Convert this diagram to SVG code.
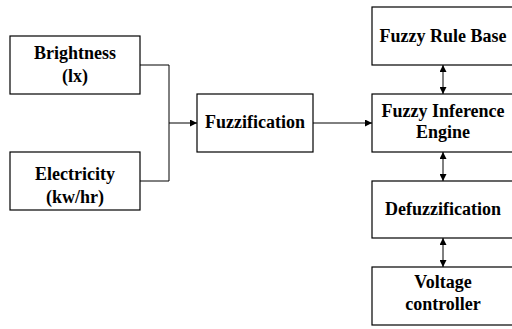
<svg xmlns="http://www.w3.org/2000/svg" width="512" height="329" viewBox="0 0 512 329">
  <defs>
    <marker id="arr" viewBox="0 0 10 10" refX="10" refY="5" markerWidth="7" markerHeight="7" markerUnits="userSpaceOnUse" orient="auto-start-reverse">
      <path d="M0,0 L10,5 L0,10 Z" fill="#000"/>
    </marker>
    <style>
      .box { fill: #fff; stroke: #000; stroke-width: 1.2; }
      .lbl { font-weight: bold; font-size: 18px; fill: #000; text-anchor: middle; }
      .wire { fill: none; stroke: #000; stroke-width: 1; }
    </style>
  </defs>
  <rect width="512" height="329" fill="#fff"/>

  <g font-family="Liberation Serif, serif">
  <g id="brightness">
    <rect class="box" x="10" y="36" width="130" height="58"/>
    <text class="lbl" x="75" y="59">Brightness</text>
    <text class="lbl" x="75" y="82">(lx)</text>
  </g>
  <g id="electricity">
    <rect class="box" x="10" y="152" width="130" height="58"/>
    <text class="lbl" x="75" y="180">Electricity</text>
    <text class="lbl" x="75" y="203">(kw/hr)</text>
  </g>
  <g id="fuzzification">
    <rect class="box" x="197" y="94" width="116" height="58"/>
    <text class="lbl" x="255" y="128">Fuzzification</text>
  </g>
  <g id="rule-base">
    <rect class="box" x="372" y="7" width="142" height="58"/>
    <text class="lbl" x="443" y="42">Fuzzy Rule Base</text>
  </g>
  <g id="inference">
    <rect class="box" x="372" y="94" width="142" height="58"/>
    <text class="lbl" x="443" y="117">Fuzzy Inference</text>
    <text class="lbl" x="443" y="138">Engine</text>
  </g>
  <g id="defuzzification">
    <rect class="box" x="372" y="181" width="142" height="57"/>
    <text class="lbl" x="443" y="215">Defuzzification</text>
  </g>
  <g id="voltage">
    <rect class="box" x="372" y="267" width="142" height="58"/>
    <text class="lbl" x="443" y="288">Voltage</text>
    <text class="lbl" x="443" y="310">controller</text>
  </g>
  </g>

  <g id="connectors">
    <path class="wire" d="M140,65 H169 V181 H140"/>
    <path class="wire" d="M169,123 H197" marker-end="url(#arr)"/>
    <path class="wire" d="M313,123 H372" marker-end="url(#arr)"/>
    <path class="wire" d="M443,65 V94" marker-start="url(#arr)" marker-end="url(#arr)"/>
    <path class="wire" d="M443,152 V181" marker-start="url(#arr)" marker-end="url(#arr)"/>
    <path class="wire" d="M443,238 V267" marker-start="url(#arr)" marker-end="url(#arr)"/>
  </g>
</svg>
